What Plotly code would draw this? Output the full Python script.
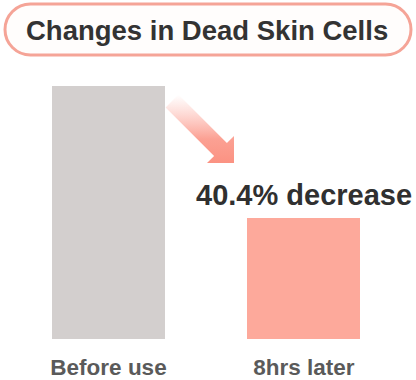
import plotly.graph_objects as go

# ---- data ----
categories = ["Before use", "8hrs later"]
values = [100, 47.8]
bar_colors = ["#d3cfce", "#fda99b"]
title_text = "Changes in Dead Skin Cells"
change_label = "40.4% decrease"

# ---- layout constants ----
W, H = 416, 380
M_B = 41
PLOT_H = H - M_B
Y_MAX = 134.0
X_RANGE = [-0.555, 1.573]


def px_to_data(px, py):
    x = X_RANGE[0] + px / W * (X_RANGE[1] - X_RANGE[0])
    y = (PLOT_H - py) / PLOT_H * Y_MAX
    return x, y


def px_to_paper(px, py):
    return px / W, (PLOT_H - py) / PLOT_H


fig = go.Figure()

fig.add_trace(go.Bar(
    x=[0, 1], y=values, width=0.578,
    marker=dict(color=bar_colors, line=dict(width=0)),
    hoverinfo="skip", showlegend=False,
))

# gradient arrow (decoration)
arrow_px = [(178.4, 94.6), (226.9, 143.1), (234, 136), (234, 163), (207, 163),
            (214.1, 155.9), (165.6, 107.4), (178.4, 94.6)]
ax, ay = zip(*[px_to_data(p[0], p[1]) for p in arrow_px])
fig.add_trace(go.Scatter(
    x=ax, y=ay, mode="lines", fill="toself",
    line=dict(width=0, color="rgba(0,0,0,0)"),
    fillgradient=dict(type="vertical", colorscale=[
        [0, "rgba(251,146,130,1)"], [0.35, "rgba(251,150,135,0.9)"],
        [1, "rgba(252,170,160,0)"]]),
    hoverinfo="skip", showlegend=False,
))

# pill around title
x0, y0, x1, y1 = 5, 4, 411, 55
r = (y1 - y0) / 2
k = 0.5523


def P(px, py):
    a, b = px_to_paper(px, py)
    return f"{a:.5f},{b:.5f}"


path = (
    f"M {P(x0 + r, y0)} L {P(x1 - r, y0)} "
    f"C {P(x1 - r + k * r, y0)} {P(x1, y0 + r - k * r)} {P(x1, y0 + r)} "
    f"C {P(x1, y0 + r + k * r)} {P(x1 - r + k * r, y1)} {P(x1 - r, y1)} "
    f"L {P(x0 + r, y1)} "
    f"C {P(x0 + r - k * r, y1)} {P(x0, y0 + r + k * r)} {P(x0, y0 + r)} "
    f"C {P(x0, y0 + r - k * r)} {P(x0 + r - k * r, y0)} {P(x0 + r, y0)} Z"
)
fig.add_shape(type="path", path=path, xref="paper", yref="paper",
              line=dict(color="#f5a497", width=3), fillcolor="#fffdfc", layer="above")

tx, ty = px_to_paper(207, 31)
fig.add_annotation(text=f"<b>{title_text}</b>", x=tx, y=ty, xref="paper", yref="paper",
                   xanchor="center", yanchor="middle", showarrow=False,
                   font=dict(family="Liberation Sans", size=27.5, color="#333333"))

fig.add_annotation(text=f"<b>{change_label}</b>", x=1, y=values[1], xref="x", yref="y",
                   xanchor="center", yanchor="bottom", yshift=5, showarrow=False,
                   font=dict(family="Liberation Sans", size=29, color="#303030"))

fig.update_layout(
    width=W, height=H,
    margin=dict(l=0, r=0, t=0, b=M_B, pad=0, autoexpand=False),
    paper_bgcolor="white", plot_bgcolor="white",
    bargap=0,
    xaxis=dict(range=X_RANGE, tickvals=[0, 1], ticktext=categories,
               showgrid=False, zeroline=False, showline=False, ticks="",
               ticklabelstandoff=12, automargin=False,
               tickfont=dict(family="Liberation Sans", size=22.5, color="#5a5a5a", weight="bold"),
               fixedrange=True),
    yaxis=dict(range=[0, Y_MAX], visible=False, fixedrange=True),
    showlegend=False,
)

fig.write_html("out.html", config={"displayModeBar": False})
